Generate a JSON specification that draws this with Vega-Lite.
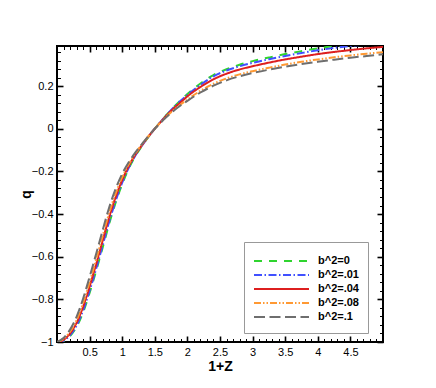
{
  "$schema": "https://vega.github.io/schema/vega-lite/v6.json",
  "width": 326,
  "height": 296,
  "autosize": {"type": "none"},
  "padding": {"left": 57, "top": 46, "right": 53, "bottom": 46},
  "background": "white",
  "config": {
    "font": "Liberation Sans",
    "view": {"stroke": "black", "strokeWidth": 2},
    "axis": {
      "grid": false,
      "domain": false,
      "tickColor": "black",
      "labelFont": "Liberation Sans",
      "labelFontSize": 11,
      "labelColor": "black",
      "titleFont": "Liberation Sans",
      "titleFontSize": 14,
      "titleFontWeight": "bold",
      "titleColor": "black"
    },
    "legend": {
      "labelFont": "Liberation Sans",
      "labelFontSize": 11,
      "labelFontWeight": "bold",
      "labelColor": "black"
    }
  },
  "data": {
    "values": [
      {"x": 0, "q": -1, "s": "b^2=0"},
      {"x": 0.1, "q": -0.996, "s": "b^2=0"},
      {"x": 0.2, "q": -0.972, "s": "b^2=0"},
      {"x": 0.3, "q": -0.929, "s": "b^2=0"},
      {"x": 0.4, "q": -0.861, "s": "b^2=0"},
      {"x": 0.5, "q": -0.77, "s": "b^2=0"},
      {"x": 0.6, "q": -0.667, "s": "b^2=0"},
      {"x": 0.7, "q": -0.558, "s": "b^2=0"},
      {"x": 0.8, "q": -0.446, "s": "b^2=0"},
      {"x": 0.9, "q": -0.346, "s": "b^2=0"},
      {"x": 1.0, "q": -0.26, "s": "b^2=0"},
      {"x": 1.1, "q": -0.187, "s": "b^2=0"},
      {"x": 1.2, "q": -0.129, "s": "b^2=0"},
      {"x": 1.3, "q": -0.082, "s": "b^2=0"},
      {"x": 1.4, "q": -0.039, "s": "b^2=0"},
      {"x": 1.5, "q": 0, "s": "b^2=0"},
      {"x": 1.6, "q": 0.037, "s": "b^2=0"},
      {"x": 1.7, "q": 0.072, "s": "b^2=0"},
      {"x": 1.8, "q": 0.105, "s": "b^2=0"},
      {"x": 1.9, "q": 0.135, "s": "b^2=0"},
      {"x": 2.0, "q": 0.163, "s": "b^2=0"},
      {"x": 2.2, "q": 0.212, "s": "b^2=0"},
      {"x": 2.4, "q": 0.252, "s": "b^2=0"},
      {"x": 2.6, "q": 0.279, "s": "b^2=0"},
      {"x": 2.8, "q": 0.3, "s": "b^2=0"},
      {"x": 3.0, "q": 0.317, "s": "b^2=0"},
      {"x": 3.25, "q": 0.334, "s": "b^2=0"},
      {"x": 3.5, "q": 0.35, "s": "b^2=0"},
      {"x": 3.75, "q": 0.364, "s": "b^2=0"},
      {"x": 4.0, "q": 0.377, "s": "b^2=0"},
      {"x": 4.25, "q": 0.388, "s": "b^2=0"},
      {"x": 4.5, "q": 0.397, "s": "b^2=0"},
      {"x": 4.75, "q": 0.405, "s": "b^2=0"},
      {"x": 5.0, "q": 0.412, "s": "b^2=0"},

      {"x": 0, "q": -1, "s": "b^2=.01"},
      {"x": 0.1, "q": -0.994, "s": "b^2=.01"},
      {"x": 0.2, "q": -0.968, "s": "b^2=.01"},
      {"x": 0.3, "q": -0.923, "s": "b^2=.01"},
      {"x": 0.4, "q": -0.852, "s": "b^2=.01"},
      {"x": 0.5, "q": -0.76, "s": "b^2=.01"},
      {"x": 0.6, "q": -0.657, "s": "b^2=.01"},
      {"x": 0.7, "q": -0.547, "s": "b^2=.01"},
      {"x": 0.8, "q": -0.436, "s": "b^2=.01"},
      {"x": 0.9, "q": -0.338, "s": "b^2=.01"},
      {"x": 1.0, "q": -0.253, "s": "b^2=.01"},
      {"x": 1.1, "q": -0.183, "s": "b^2=.01"},
      {"x": 1.2, "q": -0.127, "s": "b^2=.01"},
      {"x": 1.3, "q": -0.081, "s": "b^2=.01"},
      {"x": 1.4, "q": -0.038, "s": "b^2=.01"},
      {"x": 1.5, "q": 0, "s": "b^2=.01"},
      {"x": 1.6, "q": 0.036, "s": "b^2=.01"},
      {"x": 1.7, "q": 0.071, "s": "b^2=.01"},
      {"x": 1.8, "q": 0.103, "s": "b^2=.01"},
      {"x": 1.9, "q": 0.132, "s": "b^2=.01"},
      {"x": 2.0, "q": 0.159, "s": "b^2=.01"},
      {"x": 2.2, "q": 0.206, "s": "b^2=.01"},
      {"x": 2.4, "q": 0.246, "s": "b^2=.01"},
      {"x": 2.6, "q": 0.273, "s": "b^2=.01"},
      {"x": 2.8, "q": 0.293, "s": "b^2=.01"},
      {"x": 3.0, "q": 0.309, "s": "b^2=.01"},
      {"x": 3.25, "q": 0.326, "s": "b^2=.01"},
      {"x": 3.5, "q": 0.341, "s": "b^2=.01"},
      {"x": 3.75, "q": 0.355, "s": "b^2=.01"},
      {"x": 4.0, "q": 0.368, "s": "b^2=.01"},
      {"x": 4.25, "q": 0.379, "s": "b^2=.01"},
      {"x": 4.5, "q": 0.388, "s": "b^2=.01"},
      {"x": 4.75, "q": 0.396, "s": "b^2=.01"},
      {"x": 5.0, "q": 0.403, "s": "b^2=.01"},

      {"x": 0, "q": -1, "s": "b^2=.04"},
      {"x": 0.1, "q": -0.99, "s": "b^2=.04"},
      {"x": 0.2, "q": -0.96, "s": "b^2=.04"},
      {"x": 0.3, "q": -0.91, "s": "b^2=.04"},
      {"x": 0.4, "q": -0.835, "s": "b^2=.04"},
      {"x": 0.5, "q": -0.74, "s": "b^2=.04"},
      {"x": 0.6, "q": -0.635, "s": "b^2=.04"},
      {"x": 0.7, "q": -0.525, "s": "b^2=.04"},
      {"x": 0.8, "q": -0.415, "s": "b^2=.04"},
      {"x": 0.9, "q": -0.32, "s": "b^2=.04"},
      {"x": 1.0, "q": -0.24, "s": "b^2=.04"},
      {"x": 1.1, "q": -0.175, "s": "b^2=.04"},
      {"x": 1.2, "q": -0.122, "s": "b^2=.04"},
      {"x": 1.3, "q": -0.078, "s": "b^2=.04"},
      {"x": 1.4, "q": -0.037, "s": "b^2=.04"},
      {"x": 1.5, "q": 0, "s": "b^2=.04"},
      {"x": 1.6, "q": 0.035, "s": "b^2=.04"},
      {"x": 1.7, "q": 0.068, "s": "b^2=.04"},
      {"x": 1.8, "q": 0.098, "s": "b^2=.04"},
      {"x": 1.9, "q": 0.125, "s": "b^2=.04"},
      {"x": 2.0, "q": 0.152, "s": "b^2=.04"},
      {"x": 2.2, "q": 0.196, "s": "b^2=.04"},
      {"x": 2.4, "q": 0.232, "s": "b^2=.04"},
      {"x": 2.6, "q": 0.258, "s": "b^2=.04"},
      {"x": 2.8, "q": 0.278, "s": "b^2=.04"},
      {"x": 3.0, "q": 0.293, "s": "b^2=.04"},
      {"x": 3.25, "q": 0.31, "s": "b^2=.04"},
      {"x": 3.5, "q": 0.325, "s": "b^2=.04"},
      {"x": 3.75, "q": 0.338, "s": "b^2=.04"},
      {"x": 4.0, "q": 0.35, "s": "b^2=.04"},
      {"x": 4.25, "q": 0.36, "s": "b^2=.04"},
      {"x": 4.5, "q": 0.369, "s": "b^2=.04"},
      {"x": 4.75, "q": 0.377, "s": "b^2=.04"},
      {"x": 5.0, "q": 0.384, "s": "b^2=.04"},

      {"x": 0, "q": -1, "s": "b^2=.08"},
      {"x": 0.1, "q": -0.986, "s": "b^2=.08"},
      {"x": 0.2, "q": -0.952, "s": "b^2=.08"},
      {"x": 0.3, "q": -0.898, "s": "b^2=.08"},
      {"x": 0.4, "q": -0.818, "s": "b^2=.08"},
      {"x": 0.5, "q": -0.72, "s": "b^2=.08"},
      {"x": 0.6, "q": -0.614, "s": "b^2=.08"},
      {"x": 0.7, "q": -0.503, "s": "b^2=.08"},
      {"x": 0.8, "q": -0.395, "s": "b^2=.08"},
      {"x": 0.9, "q": -0.303, "s": "b^2=.08"},
      {"x": 1.0, "q": -0.227, "s": "b^2=.08"},
      {"x": 1.1, "q": -0.167, "s": "b^2=.08"},
      {"x": 1.2, "q": -0.117, "s": "b^2=.08"},
      {"x": 1.3, "q": -0.075, "s": "b^2=.08"},
      {"x": 1.4, "q": -0.036, "s": "b^2=.08"},
      {"x": 1.5, "q": 0, "s": "b^2=.08"},
      {"x": 1.6, "q": 0.033, "s": "b^2=.08"},
      {"x": 1.7, "q": 0.063, "s": "b^2=.08"},
      {"x": 1.8, "q": 0.09, "s": "b^2=.08"},
      {"x": 1.9, "q": 0.115, "s": "b^2=.08"},
      {"x": 2.0, "q": 0.137, "s": "b^2=.08"},
      {"x": 2.2, "q": 0.178, "s": "b^2=.08"},
      {"x": 2.4, "q": 0.211, "s": "b^2=.08"},
      {"x": 2.6, "q": 0.236, "s": "b^2=.08"},
      {"x": 2.8, "q": 0.255, "s": "b^2=.08"},
      {"x": 3.0, "q": 0.27, "s": "b^2=.08"},
      {"x": 3.25, "q": 0.286, "s": "b^2=.08"},
      {"x": 3.5, "q": 0.301, "s": "b^2=.08"},
      {"x": 3.75, "q": 0.314, "s": "b^2=.08"},
      {"x": 4.0, "q": 0.325, "s": "b^2=.08"},
      {"x": 4.25, "q": 0.335, "s": "b^2=.08"},
      {"x": 4.5, "q": 0.344, "s": "b^2=.08"},
      {"x": 4.75, "q": 0.352, "s": "b^2=.08"},
      {"x": 5.0, "q": 0.359, "s": "b^2=.08"},

      {"x": 0, "q": -1, "s": "b^2=.1"},
      {"x": 0.1, "q": -0.981, "s": "b^2=.1"},
      {"x": 0.2, "q": -0.942, "s": "b^2=.1"},
      {"x": 0.3, "q": -0.882, "s": "b^2=.1"},
      {"x": 0.4, "q": -0.797, "s": "b^2=.1"},
      {"x": 0.5, "q": -0.695, "s": "b^2=.1"},
      {"x": 0.6, "q": -0.587, "s": "b^2=.1"},
      {"x": 0.7, "q": -0.476, "s": "b^2=.1"},
      {"x": 0.8, "q": -0.369, "s": "b^2=.1"},
      {"x": 0.9, "q": -0.281, "s": "b^2=.1"},
      {"x": 1.0, "q": -0.211, "s": "b^2=.1"},
      {"x": 1.1, "q": -0.157, "s": "b^2=.1"},
      {"x": 1.2, "q": -0.112, "s": "b^2=.1"},
      {"x": 1.3, "q": -0.073, "s": "b^2=.1"},
      {"x": 1.4, "q": -0.035, "s": "b^2=.1"},
      {"x": 1.5, "q": 0, "s": "b^2=.1"},
      {"x": 1.6, "q": 0.032, "s": "b^2=.1"},
      {"x": 1.7, "q": 0.061, "s": "b^2=.1"},
      {"x": 1.8, "q": 0.087, "s": "b^2=.1"},
      {"x": 1.9, "q": 0.11, "s": "b^2=.1"},
      {"x": 2.0, "q": 0.131, "s": "b^2=.1"},
      {"x": 2.2, "q": 0.17, "s": "b^2=.1"},
      {"x": 2.4, "q": 0.202, "s": "b^2=.1"},
      {"x": 2.6, "q": 0.227, "s": "b^2=.1"},
      {"x": 2.8, "q": 0.246, "s": "b^2=.1"},
      {"x": 3.0, "q": 0.261, "s": "b^2=.1"},
      {"x": 3.25, "q": 0.277, "s": "b^2=.1"},
      {"x": 3.5, "q": 0.291, "s": "b^2=.1"},
      {"x": 3.75, "q": 0.303, "s": "b^2=.1"},
      {"x": 4.0, "q": 0.314, "s": "b^2=.1"},
      {"x": 4.25, "q": 0.324, "s": "b^2=.1"},
      {"x": 4.5, "q": 0.333, "s": "b^2=.1"},
      {"x": 4.75, "q": 0.341, "s": "b^2=.1"},
      {"x": 5.0, "q": 0.349, "s": "b^2=.1"}
    ]
  },
  "resolve": {"axis": {"x": "independent", "y": "independent"}},
  "layer": [
    {
      "mark": {"type": "point", "opacity": 0},
      "encoding": {
        "x": {"field": "x", "type": "quantitative", "scale": {"domain": [0, 5], "nice": false, "zero": false},
          "axis": {"orient": "bottom", "values": [0.1,0.2,0.3,0.4,0.6,0.7,0.8,0.9,1.1,1.2,1.3,1.4,1.6,1.7,1.8,1.9,2.1,2.2,2.3,2.4,2.6,2.7,2.8,2.9,3.1,3.2,3.3,3.4,3.6,3.7,3.8,3.9,4.1,4.2,4.3,4.4,4.6,4.7,4.8,4.9], "labels": false, "title": null, "tickSize": -3.5, "tickWidth": 1}},
        "y": {"field": "q", "type": "quantitative", "scale": {"domain": [-1, 0.388], "nice": false, "zero": false},
          "axis": {"orient": "left", "values": [-0.96,-0.92,-0.88,-0.84,-0.76,-0.72,-0.68,-0.64,-0.56,-0.52,-0.48,-0.44,-0.36,-0.32,-0.28,-0.24,-0.16,-0.12,-0.08,-0.04,0.04,0.08,0.12,0.16,0.24,0.28,0.32,0.36], "labels": false, "title": null, "tickSize": -3.5, "tickWidth": 1}}
      }
    },
    {
      "mark": {"type": "point", "opacity": 0},
      "encoding": {
        "x": {"field": "x", "type": "quantitative",
          "axis": {"orient": "top", "values": [0.1,0.2,0.3,0.4,0.6,0.7,0.8,0.9,1.1,1.2,1.3,1.4,1.6,1.7,1.8,1.9,2.1,2.2,2.3,2.4,2.6,2.7,2.8,2.9,3.1,3.2,3.3,3.4,3.6,3.7,3.8,3.9,4.1,4.2,4.3,4.4,4.6,4.7,4.8,4.9], "labels": false, "title": null, "tickSize": -3.5, "tickWidth": 1}},
        "y": {"field": "q", "type": "quantitative",
          "axis": {"orient": "right", "values": [-0.96,-0.92,-0.88,-0.84,-0.76,-0.72,-0.68,-0.64,-0.56,-0.52,-0.48,-0.44,-0.36,-0.32,-0.28,-0.24,-0.16,-0.12,-0.08,-0.04,0.04,0.08,0.12,0.16,0.24,0.28,0.32,0.36], "labels": false, "title": null, "tickSize": -3.5, "tickWidth": 1}}
      }
    },
    {
      "mark": {"type": "point", "opacity": 0},
      "encoding": {
        "x": {"field": "x", "type": "quantitative",
          "axis": {"orient": "top", "values": [0.5,1,1.5,2,2.5,3,3.5,4,4.5], "labels": false, "title": null, "tickSize": -6, "tickWidth": 1.6}},
        "y": {"field": "q", "type": "quantitative",
          "axis": {"orient": "right", "values": [-1,-0.8,-0.6,-0.4,-0.2,0,0.2], "labels": false, "title": null, "tickSize": -6, "tickWidth": 1.6}}
      }
    },
    {
      "mark": {"type": "line", "clip": true, "strokeWidth": 2, "interpolate": "monotone"},
      "encoding": {
        "x": {"field": "x", "type": "quantitative",
          "axis": {"orient": "bottom", "values": [0.5,1,1.5,2,2.5,3,3.5,4,4.5], "format": "~g", "title": "1+Z", "tickSize": -6, "tickWidth": 1.6, "labelPadding": 10, "titlePadding": 2}},
        "y": {"field": "q", "type": "quantitative",
          "axis": {"orient": "left", "values": [-1,-0.8,-0.6,-0.4,-0.2,0,0.2], "format": "~g", "title": "q", "tickSize": -6, "tickWidth": 1.6, "labelPadding": 10, "titlePadding": -2}},
        "color": {"field": "s", "type": "nominal",
          "scale": {"domain": ["b^2=0", "b^2=.01", "b^2=.04", "b^2=.08", "b^2=.1"], "range": ["#2fd42f", "#4050ff", "#dd1f1f", "#ff9933", "#6e6e6e"]},
          "legend": {"orient": "none", "legendX": 187, "legendY": 196, "title": " ", "titleFontSize": 3, "titlePadding": 0, "padding": 9, "strokeColor": "#999999", "fillColor": "white", "symbolType": "stroke", "symbolSize": 3025, "symbolStrokeWidth": 2, "labelOffset": 8, "rowPadding": 0, "clipHeight": 14}},
        "strokeDash": {"field": "s", "type": "nominal",
          "scale": {"domain": ["b^2=0", "b^2=.01", "b^2=.04", "b^2=.08", "b^2=.1"], "range": [[8, 7], [8, 2.5, 1.5, 2.5], [1, 0], [7, 2, 1.5, 2, 1.5, 2], [11, 4.5]]},
          "legend": {"orient": "none", "legendX": 187, "legendY": 196, "title": " ", "titleFontSize": 3, "titlePadding": 0, "padding": 9, "strokeColor": "#999999", "fillColor": "white", "symbolType": "stroke", "symbolSize": 3025, "symbolStrokeWidth": 2, "labelOffset": 8, "rowPadding": 0, "clipHeight": 14}}
      }
    }
  ]
}
